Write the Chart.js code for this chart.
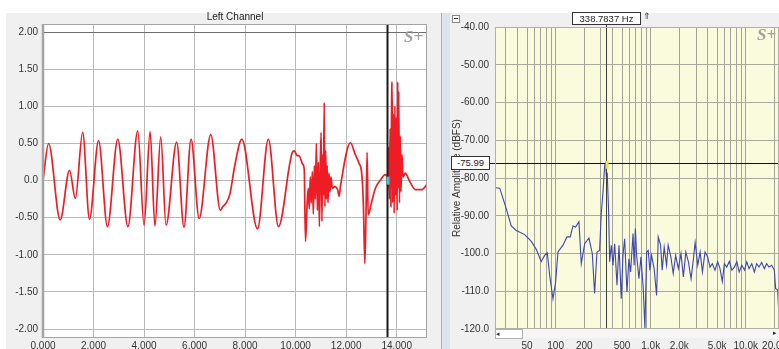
<!DOCTYPE html>
<html>
<head>
<meta charset="utf-8">
<script src="https://cdn.jsdelivr.net/npm/chart.js@4.4.1/dist/chart.umd.min.js"></script>
<style>
  body { margin:0; width:779px; height:349px; overflow:hidden; background:#fff; position:relative;
         font-family:"Liberation Sans", Arial, sans-serif; color:#222; }
  .abs { position:absolute; }
  .box { position:absolute; background:#fff; border:1px solid #333; font-size:9.5px; line-height:11px; text-align:center; color:#222; }
  .wm { position:absolute; font-family:"Liberation Serif", "DejaVu Serif", serif; font-style:italic; font-weight:bold; font-size:17px; color:#a0a0a0; }
</style>
</head>
<body>
<div class="abs" style="left:6px;top:13px;width:436px;height:336px;background:#f0f0f0"></div>
<div class="abs" style="left:441px;top:13px;width:8px;height:336px;background:#dde3ea;border-left:1px solid #a9adb3"></div>
<div class="abs" style="left:450px;top:13px;width:329px;height:336px;background:#f0f0f0"></div>

<canvas id="leftChart" class="abs" width="432" height="336" style="left:0;top:13px"></canvas>
<div class="abs" style="left:447px;top:13px;width:332px;height:336px;overflow:hidden">
  <canvas id="fftChart" width="352" height="336"></canvas>
</div>

<div class="abs" style="left:185px;top:11px;width:100px;text-align:center;font-size:10px;color:#222">Left Channel</div>
<div class="wm" style="left:404px;top:27px">S+</div>
<div class="wm" style="left:757px;top:25px">S+</div>

<div class="abs" style="left:452px;top:15px;width:6px;height:6px;border:1px solid #888;background:#fff">
  <div class="abs" style="left:1px;top:2px;width:4px;height:1px;background:#333"></div>
</div>
<div class="box" style="left:572px;top:12px;width:67px;height:11px">338.7837 Hz</div>
<div class="abs" style="left:643px;top:11px;font-size:9px;color:#333">&#8657;</div>
<div class="box" style="left:451px;top:156px;width:37px;height:12px;line-height:12px">-75.99</div>

<div class="abs" style="left:495px;top:329px;width:284px;height:9px;background:#f6f6f6"></div>
<div class="abs" style="left:495px;top:329px;width:26px;height:8px;border:1px solid #b0b0b0;background:#fff;font-size:7px;line-height:8px;color:#333">&#9666;</div>
<div class="abs" style="left:773px;top:329px;font-size:7px;line-height:8px;color:#333">&#9656;</div>

<script>
// left channel waveform
const timeMs = [0, 0.22, 0.68, 1.05, 1.28, 1.57, 1.84, 2.20, 2.55, 2.96, 3.36, 3.75, 4.00, 4.24, 4.43, 4.66, 4.87,
  5.29, 5.58, 5.86, 6.18, 6.64, 7.02, 7.10, 7.25, 7.40, 7.59, 7.87, 8.49, 8.92, 9.32, 9.87, 9.95, 10.05, 10.15,
  10.28, 10.34, 10.39, 10.45, 10.50, 10.54, 10.58, 10.62, 10.66, 10.70, 10.74, 10.78, 10.82, 10.86, 10.90, 10.94,
  10.98, 11.01, 11.04, 11.07, 11.10, 11.13, 11.16, 11.19, 11.22, 11.25, 11.28, 11.32, 11.36, 11.40, 11.45, 11.55,
  11.66, 11.72, 11.78, 12.17, 12.35, 12.50, 12.62, 12.68, 12.74, 12.78, 12.83, 12.87, 13.00, 13.16, 13.36, 13.55,
  13.62, 13.65, 13.68, 13.71, 13.74, 13.77, 13.80, 13.82, 13.84, 13.87, 13.90, 13.93, 13.96, 13.99, 14.02, 14.04,
  14.06, 14.08, 14.11, 14.14, 14.17, 14.21, 14.25, 14.34, 14.50, 14.74, 15.00, 15.20];
const leftAmp = [0, 0.50, -0.53, 0.14, -0.24, 0.65, -0.52, 0.54, -0.62, 0.56, -0.62, 0.67, -0.60, 0.66, -0.61, 0.59, -0.60,
  0.52, -0.63, 0.56, -0.51, 0.62, -0.40, -0.36, -0.30, -0.18, 0.20, 0.56, -0.65, 0.56, -0.62, 0.38, 0.40, 0.34, 0.33,
  0.22, 0.15, -0.82, -0.35, -0.10, -0.38, 0.05, -0.30, 0.12, -0.45, 0.20, -0.25, 0.50, -0.40, 0.25, -0.62,
  0.30, 0.65, -0.55, 0.35, -0.20, 1.05, -0.35, 0.40, -0.25, 0.20, -0.30, 0.10, -0.15, 0.05, -0.10, -0.08,
  -0.12, -0.21, -0.06, 0.51, 0.36, 0.24, 0.08, -0.30, -1.12, -0.55, 0.38, -0.46, -0.30, -0.10, 0.01, 0.08,
  0.05, -0.10, 0.45, -0.25, 0.70, -0.35, 1.10, 1.33, -0.30, 0.90, -0.44, 1.00, -0.20, 0.85, -0.40, 1.33,
  -0.10, 1.20, -0.30, 0.60, -0.15, 0.35, 0.05, 0.10, 0.00, -0.12, -0.12, -0.05];
const timeTicks = [0, 2, 4, 6, 8, 10, 12, 14];
const timeTickLabels = ['0.000', '2.000', '4.000', '6.000', '8.000', '10.000', '12.000', '14.000'];
const ampTicks = [-2, -1.5, -1, -0.5, 0, 0.5, 1, 1.5, 2];
const ampTickLabels = ['-2.00', '-1.50', '-1.00', '-0.50', '0.0', '0.50', '1.00', '1.50', '2.00'];

// spectrum
const freqHz = [23.3, 25.8, 30.2, 34.1, 38.5, 47.2, 55.4, 62.5, 70.5, 76.6, 81.6, 86.5, 93.7, 100, 105.7, 119.4,
  131.5, 142.6, 152, 162, 175.8, 186, 202, 224, 243, 257, 272, 290, 302, 315, 328, 336, 341, 349, 361, 370, 385,
  401, 418, 442, 464, 490, 511, 532, 563, 590, 615, 652, 670, 690, 711, 752, 790, 835, 870, 906, 942, 981, 1021,
  1087, 1154, 1201, 1271, 1322, 1387, 1469, 1528, 1630, 1727, 1832, 1955, 2085, 2207, 2343, 2495, 2660, 2818,
  2935, 3131, 3313, 3503, 3731, 3980, 4207, 4451, 4750, 5066, 5361, 5674, 5960, 6310, 6730, 7140, 7610, 8060,
  8530, 9100, 9710, 10260, 10850, 11580, 12330, 13040, 13800, 14720, 15700, 16600, 17560, 18740, 19990, 20650,
  21670, 22400];
const levelDb = [-82.6, -82.7, -88.1, -92.7, -93.9, -95.0, -96.8, -98.9, -102.1, -100.5, -99.8, -105.8, -112.0, -107.5, -99.6, -97.8,
  -95.6, -95.6, -92.7, -93.0, -91.6, -102.7, -97.4, -95.9, -100.0, -110.6, -99.6, -99.2, -89.4, -83.7, -76.6, -76.0, -79.3, -78.9, -89.0, -102.2, -97.8,
  -103.1, -97.4, -108.4, -97.8, -112.0, -100.5, -96.1, -110.2, -101.4, -104.9, -94.7, -103.1, -93.4, -100.5, -106.7, -100.9, -109.3, -119.9, -99.6, -99.2, -104.4, -100.5,
  -104.0, -111.1, -95.6, -97.8, -104.4, -98.3, -103.1, -97.8, -100.9, -105.3, -100.5, -104.0, -100.0, -106.2, -99.6, -102.2, -106.7, -101.4,
  -97.1, -103.1, -99.6, -104.9, -99.6, -100.9, -103.6, -102.7, -104.4, -102.2, -104.0, -107.4, -102.7, -103.6, -102.1, -104.4, -103.6, -102.2,
  -104.9, -103.1, -104.4, -102.2, -104.0, -102.7, -104.9, -102.7, -103.6, -102.4, -104.0, -102.7, -103.6, -103.1, -104.4, -109.3,
  -109.7, -116.4];
const freqGrid = [30, 40, 50, 60, 70, 80, 90, 100, 200, 300, 400, 500, 600, 700, 800, 900,
  1000, 2000, 3000, 4000, 5000, 6000, 7000, 8000, 9000, 10000, 20000];
const freqTickValues = [50, 100, 200, 500, 1000, 2000, 5000, 10000, 20000];
const freqTickLabels = ['50', '100', '200', '500', '1.0k', '2.0k', '5.0k', '10.0k', '20.0k'];
const dbTicks = [-120, -110, -100, -90, -80, -70, -60, -50, -40];
const dbTickLabels = ['-120.0', '-110.0', '-100.0', '-90.00', '-80.00', '-70.00', '-60.00', '-50.00', '-40.00'];

Chart.defaults.font.family = '"Liberation Sans", Arial, sans-serif';
Chart.defaults.font.size = 10;
Chart.defaults.color = '#333';

// fill the plot area
const plotBg = {
  id: 'plotBg',
  beforeDraw(chart, args, opts) {
    const a = chart.chartArea, ctx = chart.ctx;
    ctx.save();
    ctx.fillStyle = opts.color;
    ctx.fillRect(a.left, a.top, a.right - a.left, a.bottom - a.top);
    ctx.restore();
  }
};

const frame = {
  id: 'frame',
  afterDraw(chart, args, opts) {
    const a = chart.chartArea, ctx = chart.ctx;
    ctx.save();
    ctx.strokeStyle = opts.color;
    ctx.lineWidth = 1;
    ctx.strokeRect(a.left + 0.5, a.top + 0.5, a.right - a.left - 1, a.bottom - a.top - 1);
    if (opts.leftWidth) {
      ctx.lineWidth = opts.leftWidth;
      ctx.beginPath();
      ctx.moveTo(a.left, a.top);
      ctx.lineTo(a.left, a.bottom);
      ctx.stroke();
    }
    ctx.restore();
  }
};

const cursor = {
  id: 'cursor',
  afterDatasetsDraw(chart, args, opts) {
    const a = chart.chartArea, ctx = chart.ctx;
    const sx = chart.scales.x, sy = chart.scales.y;
    ctx.save();
    ctx.strokeStyle = opts.color;
    ctx.lineWidth = opts.width;
    const px = Math.round(sx.getPixelForValue(opts.x)) + 0.5;
    ctx.beginPath();
    ctx.moveTo(px, a.top - (opts.above || 0));
    ctx.lineTo(px, a.bottom);
    ctx.stroke();
    if (opts.y !== undefined) {
      const py = Math.round(sy.getPixelForValue(opts.y)) + 0.5;
      ctx.strokeStyle = '#111';
      ctx.lineWidth = 1;
      ctx.beginPath();
      ctx.moveTo(a.left - 7, py);
      ctx.lineTo(a.right, py);
      ctx.stroke();
    }
    if (opts.mark) {
      const my = sy.getPixelForValue(opts.mark.y);
      ctx.fillStyle = opts.mark.color;
      ctx.fillRect(px - 1, my - 4, 3, 8);
    }
    ctx.restore();
  }
};

new Chart(document.getElementById('leftChart'), {
  type: 'line',
  data: {
    datasets: [{
      data: timeMs.map((t, i) => ({ x: t, y: leftAmp[i] })),
      borderColor: '#ee1d25',
      borderWidth: 1.7,
      pointRadius: 0,
      cubicInterpolationMode: 'monotone',
      fill: false
    }]
  },
  options: {
    responsive: false,
    animation: false,
    events: [],
    layout: { padding: { left: 0, right: 5, top: 11, bottom: 0 } },
    plugins: {
      legend: { display: false },
      tooltip: { enabled: false },
      plotBg: { color: '#ffffff' },
      frame: { color: '#a4a4a4', leftWidth: 2.5 },
      cursor: { x: 13.6, color: '#1a1a1a', width: 2, mark: { y: 0, color: '#4cc3d3' } }
    },
    scales: {
      x: {
        type: 'linear', min: 0, max: 15.2,
        afterBuildTicks: s => { s.ticks = timeTicks.map(v => ({ value: v })); },
        afterFit: s => { s.height = 11; },
        ticks: { callback: (v, i) => timeTickLabels[i], padding: 2, maxRotation: 0, autoSkip: false, color: '#333' },
        grid: { color: '#b9b9b9', drawTicks: false },
        border: { display: false }
      },
      y: {
        min: -2.12, max: 2.11,
        afterBuildTicks: s => { s.ticks = ampTicks.map(v => ({ value: v })); },
        afterFit: s => { s.width = 43; },
        ticks: { callback: (v, i) => ampTickLabels[i], padding: 5, color: '#333' },
        grid: { color: c => (c.tick && c.tick.value === 2 ? '#6e6e6e' : '#b9b9b9'), drawTicks: false },
        border: { display: false }
      }
    }
  },
  plugins: [plotBg, frame, cursor]
});

new Chart(document.getElementById('fftChart'), {
  type: 'line',
  data: {
    datasets: [{
      data: freqHz.map((f, i) => ({ x: f, y: levelDb[i] })),
      borderColor: '#3d47b2',
      borderWidth: 1.1,
      pointRadius: 0,
      tension: 0,
      fill: false
    }]
  },
  options: {
    responsive: false,
    animation: false,
    events: [],
    layout: { padding: { left: 0, right: 20, top: 14, bottom: 0 } },
    plugins: {
      legend: { display: false },
      tooltip: { enabled: false },
      plotBg: { color: '#fafadc' },
      frame: { color: '#b0b0a4' },
      cursor: { x: 338.7837, y: -75.99, color: '#3c3c3c', width: 1, above: 3, mark: { y: -76.5, color: '#f2e24a' } }
    },
    scales: {
      x: {
        type: 'logarithmic', min: 23, max: 22400,
        afterBuildTicks: s => { s.ticks = freqGrid.map(v => ({ value: v })); },
        afterFit: s => { s.height = 20; },
        ticks: {
          callback: v => { const k = freqTickValues.indexOf(v); return k >= 0 ? freqTickLabels[k] : ''; },
          padding: 11, maxRotation: 0, autoSkip: false, color: '#333'
        },
        grid: { color: '#a3a397', drawTicks: false },
        border: { display: false }
      },
      y: {
        min: -120, max: -40,
        afterBuildTicks: s => { s.ticks = dbTicks.map(v => ({ value: v })); },
        afterFit: s => { s.width = 48; },
        title: { display: true, text: 'Relative Amplitude (dBFS)', color: '#333', font: { size: 10 }, padding: { top: 4, bottom: 0 } },
        ticks: { callback: (v, i) => dbTickLabels[i], padding: 6, color: '#333' },
        grid: { color: c => (c.tick && c.tick.value === -40 ? '#f2a47c' : '#a9a99c'), drawTicks: false },
        border: { display: false }
      }
    }
  },
  plugins: [plotBg, frame, cursor]
});
</script>
</body>
</html>
